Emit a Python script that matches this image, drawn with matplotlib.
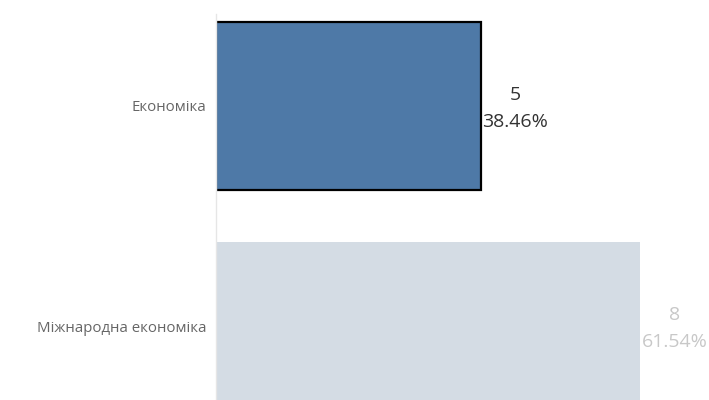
import matplotlib.pyplot as plt

categories = ['Економіка', 'Міжнародна економіка']
counts = [5, 8]
shares = ['38.46%', '61.54%']
bar_colors = ['#4e79a7', '#d4dce4']
edge_colors = ['black', 'none']
label_colors = ['#333333', '#c8c8c8']

plt.rcParams['font.family'] = ['Open Sans', 'DejaVu Sans']

fig = plt.figure(figsize=(7.09, 4.0), dpi=100)
ax = fig.add_axes([216 / 709, 0, 493 / 709, 386 / 400])

pos = list(range(len(categories)))
ax.barh(pos, counts, height=0.764, color=bar_colors,
        edgecolor=edge_colors, linewidth=1.6)

# count over share, to the right of each bar
for p, c, s, col in zip(pos, counts, shares, label_colors):
    ax.annotate(f'{c}\n{s}', xy=(c, p), xytext=(1, -2),
                textcoords='offset points', ha='left', va='center',
                multialignment='center', fontsize=14, color=col,
                linespacing=1.65)

ax.set_xlim(0, 493 / 53)
ax.set_ylim(1.336, -0.418)
ax.set_yticks(pos)
ax.set_yticklabels(categories, fontsize=10.8, color='#666666')
ax.tick_params(axis='y', length=0, pad=7)
ax.set_xticks([])

for side in ['top', 'right', 'bottom']:
    ax.spines[side].set_visible(False)
ax.spines['left'].set_color('#e6e6e6')
ax.spines['left'].set_linewidth(1)

fig.savefig('out.png', dpi=100)
